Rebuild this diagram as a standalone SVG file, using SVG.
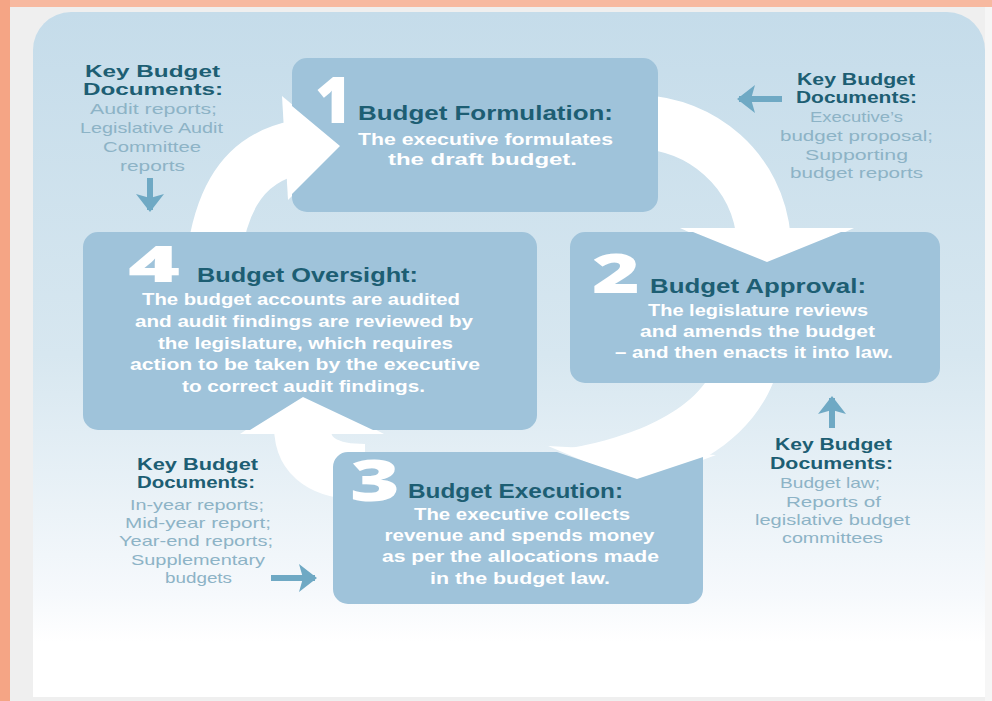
<svg xmlns="http://www.w3.org/2000/svg" width="992" height="701" viewBox="0 0 992 701">
<defs>
<linearGradient id="panelGrad" x1="0" y1="0" x2="0" y2="1">
<stop offset="0" stop-color="#C5DCEA"/>
<stop offset="0.5" stop-color="#D7E7F0"/>
<stop offset="0.85" stop-color="#F6F9FC"/>
<stop offset="0.92" stop-color="#FFFFFF"/>
</linearGradient>
<marker id="docArrow" markerUnits="userSpaceOnUse" markerWidth="18" markerHeight="28" viewBox="0 0 18 28" refX="16" refY="14" orient="auto">
<path d="M0,0 L18,14 L0,28 L4,14 Z" fill="#6FA9C4"/>
</marker>
<style>
.box{fill:#9FC3DA}
.arc{fill:#FFFFFF}
.shaft{fill:none;stroke:#FFFFFF}
.num{font-family:"Open Sans","Liberation Sans",sans-serif;font-weight:800;fill:#FFFFFF;text-anchor:middle}
.ttl{font-family:"Liberation Sans",Arial,sans-serif;font-weight:700;font-size:21px;fill:#1D5E73;text-anchor:middle}
.body{font-family:"Liberation Sans",Arial,sans-serif;font-weight:700;font-size:16px;fill:#FFFFFF;text-anchor:middle}
.kh{font-family:"Liberation Sans",Arial,sans-serif;font-weight:700;font-size:16px;fill:#1D5E73;text-anchor:middle}
.kt{font-family:"Liberation Sans",Arial,sans-serif;font-weight:400;font-size:15px;fill:#8DB3C6;text-anchor:middle}
.doc-arrow{stroke:#6FA9C4;stroke-width:6;fill:none;marker-end:url(#docArrow)}
</style>
</defs>

<!-- frame and panel -->
<rect x="0" y="0" width="992" height="701" fill="#EFEFEF"/>
<rect x="985" y="7" width="7" height="694" fill="#F6F6F6"/>
<rect x="0" y="0" width="992" height="7" fill="#F7B9A0"/>
<rect x="0" y="0" width="10" height="701" fill="#F5A585"/>
<path d="M33,50 A38,38 0 0 1 71,12 H947 A38,38 0 0 1 985,50 V697 H33 Z" fill="url(#panelGrad)"/>

<!-- cycle arrows (under the notched boxes) -->
<g id="connectors">
<g id="arrow-4-1">
<path class="shaft" stroke-width="54" d="M210,300 C213,205 240,157 300,147"/>
<path class="arc" d="M282,96 L342,146 L288,200 Z"/>
</g>
<g id="arrow-1-2">
<path class="shaft" stroke-width="54" d="M640,122 C700,124 758,168 764,240"/>
<path class="arc" d="M680,228 L854,228 L767,268 Z"/>
</g>
<g id="arrow-2-3">
<path class="arc" d="M705,370 L775,370 L773,383 C760,415 735,440 708,456 L560,450 C590,445 670,430 705,383 Z"/>
<path class="arc" d="M548,446 L638,484 L716,455 Z"/>
</g>
<g id="arrow-3-4">
<path class="shaft" stroke-width="56" d="M365,472 C325,472 302,458 302,426"/>
<path class="arc" d="M240,434 L303,392 L384,434 Z"/>
</g>
<g id="doc-arrows">
<line class="doc-arrow" x1="150" y1="178" x2="150" y2="210"/>
<line class="doc-arrow" x1="782" y1="99" x2="739" y2="99"/>
<line class="doc-arrow" x1="832" y1="428" x2="832" y2="398"/>
<line class="doc-arrow" x1="271" y1="578" x2="315" y2="578"/>
</g>
</g>

<!-- Box 1 -->
<g id="node-1">
<path class="box" d="M307,58 H643 A15,15 0 0 1 658,73 V197 A15,15 0 0 1 643,212 H307 A15,15 0 0 1 292,197 V194 L340,146 L292,106 V73 A15,15 0 0 1 307,58 Z"/>
<text class="num" x="333.5" y="123" font-size="64" textLength="37" lengthAdjust="spacingAndGlyphs">1</text>
<text class="ttl" x="485.5" y="120" textLength="255" lengthAdjust="spacingAndGlyphs">Budget Formulation:</text>
<text class="body" x="485.5" y="145" textLength="255" lengthAdjust="spacingAndGlyphs">The executive formulates</text>
<text class="body" x="482.5" y="165" textLength="189" lengthAdjust="spacingAndGlyphs">the draft budget.</text>
</g>

<!-- Box 2 -->
<g id="node-2">
<path class="box" d="M585,232 H693 L767,262 L841,232 H925 A15,15 0 0 1 940,247 V368 A15,15 0 0 1 925,383 H585 A15,15 0 0 1 570,368 V247 A15,15 0 0 1 585,232 Z"/>
<text class="num" x="616" y="293" font-size="54" textLength="48" lengthAdjust="spacingAndGlyphs">2</text>
<text class="ttl" x="758" y="293" textLength="216" lengthAdjust="spacingAndGlyphs">Budget Approval:</text>
<text class="body" x="758" y="316" textLength="220" lengthAdjust="spacingAndGlyphs">The legislature reviews</text>
<text class="body" x="757.5" y="337" textLength="235" lengthAdjust="spacingAndGlyphs">and amends the budget</text>
<text class="body" x="754" y="358" textLength="278" lengthAdjust="spacingAndGlyphs">– and then enacts it into law.</text>
</g>

<!-- Box 3 -->
<g id="node-3">
<path class="box" d="M348,452 H557 L637,479 L703,457 V589 A15,15 0 0 1 688,604 H348 A15,15 0 0 1 333,589 V467 A15,15 0 0 1 348,452 Z"/>
<text class="num" x="375" y="501" font-size="56" textLength="50" lengthAdjust="spacingAndGlyphs">3</text>
<text class="ttl" x="515.5" y="498" textLength="215" lengthAdjust="spacingAndGlyphs">Budget Execution:</text>
<text class="body" x="522" y="520" textLength="216" lengthAdjust="spacingAndGlyphs">The executive collects</text>
<text class="body" x="519.5" y="541" textLength="270" lengthAdjust="spacingAndGlyphs">revenue and spends money</text>
<text class="body" x="520.5" y="562" textLength="277" lengthAdjust="spacingAndGlyphs">as per the allocations made</text>
<text class="body" x="520" y="584" textLength="180" lengthAdjust="spacingAndGlyphs">in the budget law.</text>
</g>

<!-- Box 4 -->
<g id="node-4">
<path class="box" d="M98,232 H522 A15,15 0 0 1 537,247 V415 A15,15 0 0 1 522,430 H373 L303,397 L250,430 H98 A15,15 0 0 1 83,415 V247 A15,15 0 0 1 98,232 Z"/>
<text class="num" x="154" y="282" font-size="50" textLength="52" lengthAdjust="spacingAndGlyphs">4</text>
<text class="ttl" x="307.5" y="282" textLength="221" lengthAdjust="spacingAndGlyphs">Budget Oversight:</text>
<text class="body" x="301" y="305" textLength="318" lengthAdjust="spacingAndGlyphs">The budget accounts are audited</text>
<text class="body" x="304" y="327" textLength="338" lengthAdjust="spacingAndGlyphs">and audit findings are reviewed by</text>
<text class="body" x="305.5" y="349" textLength="295" lengthAdjust="spacingAndGlyphs">the legislature, which requires</text>
<text class="body" x="305" y="370" textLength="350" lengthAdjust="spacingAndGlyphs">action to be taken by the executive</text>
<text class="body" x="303.5" y="392" textLength="243" lengthAdjust="spacingAndGlyphs">to correct audit findings.</text>
</g>

<!-- Key documents -->
<g id="docs-oversight">
<text class="kh" x="152.5" y="77" textLength="135" lengthAdjust="spacingAndGlyphs">Key Budget</text>
<text class="kh" x="153" y="95" textLength="140" lengthAdjust="spacingAndGlyphs">Documents:</text>
<text class="kt" x="153.5" y="114" textLength="127" lengthAdjust="spacingAndGlyphs">Audit reports;</text>
<text class="kt" x="151.5" y="133" textLength="143" lengthAdjust="spacingAndGlyphs">Legislative Audit</text>
<text class="kt" x="152" y="152" textLength="98" lengthAdjust="spacingAndGlyphs">Committee</text>
<text class="kt" x="152.5" y="171" textLength="65" lengthAdjust="spacingAndGlyphs">reports</text>
</g>

<g id="docs-formulation">
<text class="kh" x="856" y="85" textLength="118" lengthAdjust="spacingAndGlyphs">Key Budget</text>
<text class="kh" x="856.5" y="103" textLength="121" lengthAdjust="spacingAndGlyphs">Documents:</text>
<text class="kt" x="856.5" y="122" textLength="93" lengthAdjust="spacingAndGlyphs">Executive’s</text>
<text class="kt" x="856.5" y="141" textLength="153" lengthAdjust="spacingAndGlyphs">budget proposal;</text>
<text class="kt" x="856.5" y="160" textLength="103" lengthAdjust="spacingAndGlyphs">Supporting</text>
<text class="kt" x="856.5" y="178" textLength="133" lengthAdjust="spacingAndGlyphs">budget reports</text>
</g>

<g id="docs-approval">
<text class="kh" x="833.5" y="450" textLength="117" lengthAdjust="spacingAndGlyphs">Key Budget</text>
<text class="kh" x="831.5" y="469" textLength="123" lengthAdjust="spacingAndGlyphs">Documents:</text>
<text class="kt" x="830" y="488" textLength="100" lengthAdjust="spacingAndGlyphs">Budget law;</text>
<text class="kt" x="833.5" y="507" textLength="95" lengthAdjust="spacingAndGlyphs">Reports of</text>
<text class="kt" x="832.5" y="525" textLength="155" lengthAdjust="spacingAndGlyphs">legislative budget</text>
<text class="kt" x="832.5" y="543" textLength="101" lengthAdjust="spacingAndGlyphs">committees</text>
</g>

<g id="docs-execution">
<text class="kh" x="197.5" y="470" textLength="121" lengthAdjust="spacingAndGlyphs">Key Budget</text>
<text class="kh" x="196" y="488" textLength="118" lengthAdjust="spacingAndGlyphs">Documents:</text>
<text class="kt" x="197" y="510" textLength="134" lengthAdjust="spacingAndGlyphs">In-year reports;</text>
<text class="kt" x="198" y="528" textLength="146" lengthAdjust="spacingAndGlyphs">Mid-year report;</text>
<text class="kt" x="196" y="546" textLength="154" lengthAdjust="spacingAndGlyphs">Year-end reports;</text>
<text class="kt" x="198" y="565" textLength="134" lengthAdjust="spacingAndGlyphs">Supplementary</text>
<text class="kt" x="198.5" y="583" textLength="67" lengthAdjust="spacingAndGlyphs">budgets</text>
</g>
</svg>
